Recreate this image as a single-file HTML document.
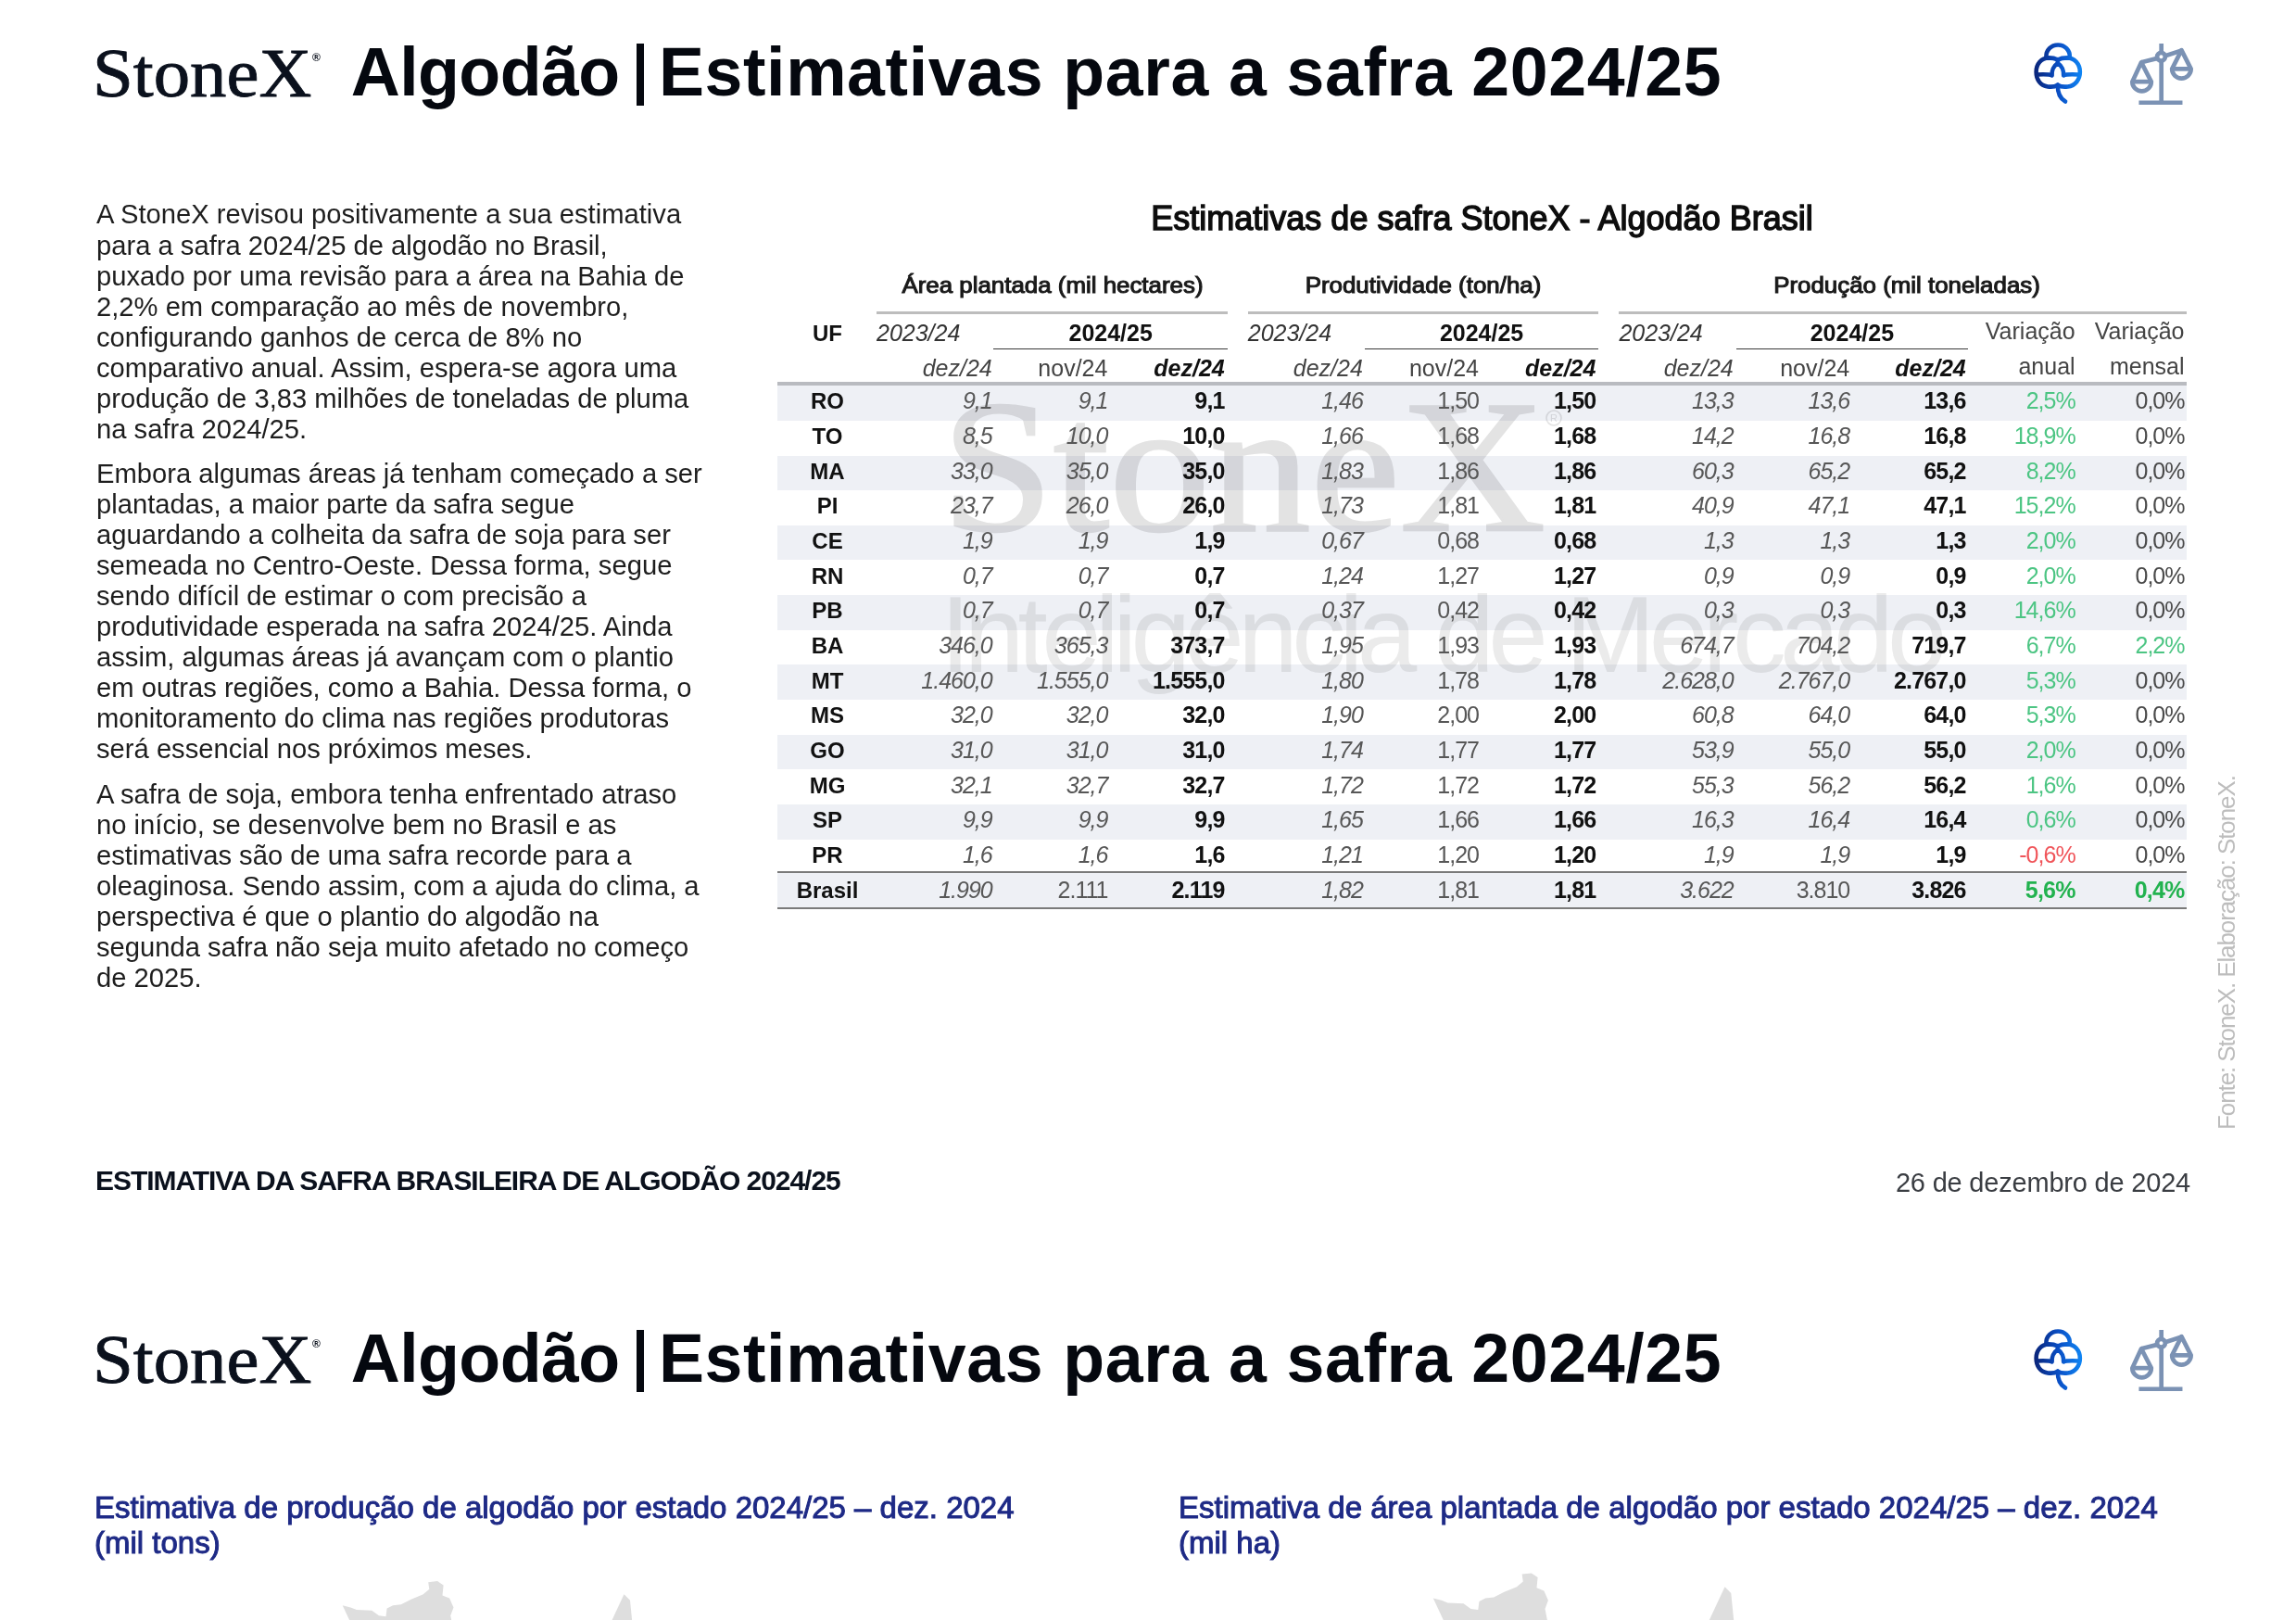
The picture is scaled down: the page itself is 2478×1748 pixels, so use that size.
<!DOCTYPE html><html><head><meta charset="utf-8"><title>StoneX Algod&#227;o</title><style>*{margin:0;padding:0;box-sizing:border-box}
html,body{width:2478px;height:1748px;overflow:hidden;background:#fff}
body{position:relative}
.t{position:absolute;white-space:nowrap;line-height:1}
.r{position:absolute}
.ic{position:absolute;overflow:visible}
</style></head><body>
<div class="r" style="left:839px;top:416.20px;width:1521px;height:37.66px;background:#eef0f5"></div>
<div class="r" style="left:839px;top:491.52px;width:1521px;height:37.66px;background:#eef0f5"></div>
<div class="r" style="left:839px;top:566.84px;width:1521px;height:37.66px;background:#eef0f5"></div>
<div class="r" style="left:839px;top:642.16px;width:1521px;height:37.66px;background:#eef0f5"></div>
<div class="r" style="left:839px;top:717.48px;width:1521px;height:37.66px;background:#eef0f5"></div>
<div class="r" style="left:839px;top:792.80px;width:1521px;height:37.66px;background:#eef0f5"></div>
<div class="r" style="left:839px;top:868.12px;width:1521px;height:37.66px;background:#eef0f5"></div>
<div class="r" style="left:839px;top:942.30px;width:1521px;height:36.50px;background:#eef0f5"></div>
<div class="t" style="top:40.50px;font-family:'Liberation Serif', serif;font-size:75px;font-weight:400;font-style:normal;color:#0b111d;letter-spacing:0px;-webkit-text-stroke:0.9px #0b111d;left:100.00px;transform-origin:0 0;transform:scaleX(1.0500);">StoneX</div>
<div class="t" style="top:55.84px;font-family:'Liberation Sans', sans-serif;font-size:12px;font-weight:700;font-style:normal;color:#0b111d;letter-spacing:0px;left:337.00px;transform-origin:0 0;">&#174;</div>
<div class="t" style="top:40.57px;font-family:'Liberation Sans', sans-serif;font-size:73.5px;font-weight:700;font-style:normal;color:#05080f;letter-spacing:-0.57px;left:378.70px;transform-origin:0 0;">Algod&#227;o</div>
<div class="r" style="left:686.50px;top:47.10px;width:8.70px;height:66.90px;background:#05080f;"></div>
<div class="t" style="top:40.57px;font-family:'Liberation Sans', sans-serif;font-size:73.5px;font-weight:700;font-style:normal;color:#05080f;letter-spacing:0.61px;left:710.90px;transform-origin:0 0;">Estimativas para a safra 2024/25</div>
<svg class="ic" style="left:2185px;top:40px" width="70" height="78" viewBox="0 0 1454 1620">
<defs><linearGradient id="cg40" x1="220" y1="0" x2="1290" y2="0" gradientUnits="userSpaceOnUse"><stop offset="0" stop-color="#0a2478"/><stop offset="0.5" stop-color="#0a4ec4"/><stop offset="1" stop-color="#0f86f5"/></linearGradient></defs>
<g fill="none" stroke="url(#cg40)" stroke-width="95" stroke-linecap="round" stroke-linejoin="round">
<path d="M485,450 C480,290 600,178 750,178 C900,178 1020,290 1015,450"/>
<path d="M745,1075 C690,1110 600,1120 520,1110 C350,1090 262,950 262,780 C262,600 380,470 540,465 C620,465 690,480 745,510"/>
<path d="M745,1075 C800,1110 890,1120 970,1110 C1140,1090 1243,950 1243,780 C1243,600 1120,470 960,465 C880,465 800,480 745,510"/>
<path d="M745,500 L745,580"/>
<path d="M290,840 C420,835 560,830 615,860 C610,760 650,640 745,585 C840,640 880,760 875,860 C930,830 1070,835 1200,840"/>
<path d="M745,1080 C740,1250 790,1370 915,1445"/>
</g></svg>
<svg class="ic" style="left:2160px;top:20px" width="240" height="120" viewBox="0 0 2296 1148">
<g fill="none" stroke="#7b92b4" stroke-width="45" stroke-linecap="butt" stroke-linejoin="round">
<path d="M1652,258 L1652,352"/>
<path d="M1652,438 L1652,872"/>
<path d="M1420,868 L1870,868"/>
<path d="M1445,452 L1612,410"/><path d="M1692,385 L1862,330"/>
<circle cx="1650" cy="395" r="42"/>
<path d="M1445,452 L1352,652 A98,98 0 0 0 1548,652 Z"/>
<path d="M1860,327 L1762,520 A98,98 0 0 0 1958,520 Z"/>
<path d="M1370,652 L1530,652"/><path d="M1780,520 L1940,520"/>
</g></svg>
<div class="t" style="top:1428.50px;font-family:'Liberation Serif', serif;font-size:75px;font-weight:400;font-style:normal;color:#0b111d;letter-spacing:0px;-webkit-text-stroke:0.9px #0b111d;left:100.00px;transform-origin:0 0;transform:scaleX(1.0500);">StoneX</div>
<div class="t" style="top:1443.84px;font-family:'Liberation Sans', sans-serif;font-size:12px;font-weight:700;font-style:normal;color:#0b111d;letter-spacing:0px;left:337.00px;transform-origin:0 0;">&#174;</div>
<div class="t" style="top:1428.57px;font-family:'Liberation Sans', sans-serif;font-size:73.5px;font-weight:700;font-style:normal;color:#05080f;letter-spacing:-0.57px;left:378.70px;transform-origin:0 0;">Algod&#227;o</div>
<div class="r" style="left:686.50px;top:1435.10px;width:8.70px;height:66.90px;background:#05080f;"></div>
<div class="t" style="top:1428.57px;font-family:'Liberation Sans', sans-serif;font-size:73.5px;font-weight:700;font-style:normal;color:#05080f;letter-spacing:0.61px;left:710.90px;transform-origin:0 0;">Estimativas para a safra 2024/25</div>
<svg class="ic" style="left:2185px;top:1428px" width="70" height="78" viewBox="0 0 1454 1620">
<defs><linearGradient id="cg1428" x1="220" y1="0" x2="1290" y2="0" gradientUnits="userSpaceOnUse"><stop offset="0" stop-color="#0a2478"/><stop offset="0.5" stop-color="#0a4ec4"/><stop offset="1" stop-color="#0f86f5"/></linearGradient></defs>
<g fill="none" stroke="url(#cg1428)" stroke-width="95" stroke-linecap="round" stroke-linejoin="round">
<path d="M485,450 C480,290 600,178 750,178 C900,178 1020,290 1015,450"/>
<path d="M745,1075 C690,1110 600,1120 520,1110 C350,1090 262,950 262,780 C262,600 380,470 540,465 C620,465 690,480 745,510"/>
<path d="M745,1075 C800,1110 890,1120 970,1110 C1140,1090 1243,950 1243,780 C1243,600 1120,470 960,465 C880,465 800,480 745,510"/>
<path d="M745,500 L745,580"/>
<path d="M290,840 C420,835 560,830 615,860 C610,760 650,640 745,585 C840,640 880,760 875,860 C930,830 1070,835 1200,840"/>
<path d="M745,1080 C740,1250 790,1370 915,1445"/>
</g></svg>
<svg class="ic" style="left:2160px;top:1408px" width="240" height="120" viewBox="0 0 2296 1148">
<g fill="none" stroke="#7b92b4" stroke-width="45" stroke-linecap="butt" stroke-linejoin="round">
<path d="M1652,258 L1652,352"/>
<path d="M1652,438 L1652,872"/>
<path d="M1420,868 L1870,868"/>
<path d="M1445,452 L1612,410"/><path d="M1692,385 L1862,330"/>
<circle cx="1650" cy="395" r="42"/>
<path d="M1445,452 L1352,652 A98,98 0 0 0 1548,652 Z"/>
<path d="M1860,327 L1762,520 A98,98 0 0 0 1958,520 Z"/>
<path d="M1370,652 L1530,652"/><path d="M1780,520 L1940,520"/>
</g></svg>
<div class="t" style="top:217.48px;font-family:'Liberation Sans', sans-serif;font-size:29.2px;font-weight:400;font-style:normal;color:#1e1e1e;letter-spacing:0px;left:104.00px;transform-origin:0 0;">A StoneX revisou positivamente a sua estimativa</div>
<div class="t" style="top:250.53px;font-family:'Liberation Sans', sans-serif;font-size:29.2px;font-weight:400;font-style:normal;color:#1e1e1e;letter-spacing:0px;left:104.00px;transform-origin:0 0;">para a safra 2024/25 de algod&#227;o no Brasil,</div>
<div class="t" style="top:283.58px;font-family:'Liberation Sans', sans-serif;font-size:29.2px;font-weight:400;font-style:normal;color:#1e1e1e;letter-spacing:0px;left:104.00px;transform-origin:0 0;">puxado por uma revis&#227;o para a &#225;rea na Bahia de</div>
<div class="t" style="top:316.63px;font-family:'Liberation Sans', sans-serif;font-size:29.2px;font-weight:400;font-style:normal;color:#1e1e1e;letter-spacing:0px;left:104.00px;transform-origin:0 0;">2,2% em compara&#231;&#227;o ao m&#234;s de novembro,</div>
<div class="t" style="top:349.68px;font-family:'Liberation Sans', sans-serif;font-size:29.2px;font-weight:400;font-style:normal;color:#1e1e1e;letter-spacing:0px;left:104.00px;transform-origin:0 0;">configurando ganhos de cerca de 8% no</div>
<div class="t" style="top:382.73px;font-family:'Liberation Sans', sans-serif;font-size:29.2px;font-weight:400;font-style:normal;color:#1e1e1e;letter-spacing:0px;left:104.00px;transform-origin:0 0;">comparativo anual. Assim, espera-se agora uma</div>
<div class="t" style="top:415.78px;font-family:'Liberation Sans', sans-serif;font-size:29.2px;font-weight:400;font-style:normal;color:#1e1e1e;letter-spacing:0px;left:104.00px;transform-origin:0 0;">produ&#231;&#227;o de 3,83 milh&#245;es de toneladas de pluma</div>
<div class="t" style="top:448.83px;font-family:'Liberation Sans', sans-serif;font-size:29.2px;font-weight:400;font-style:normal;color:#1e1e1e;letter-spacing:0px;left:104.00px;transform-origin:0 0;">na safra 2024/25.</div>
<div class="t" style="top:496.78px;font-family:'Liberation Sans', sans-serif;font-size:29.2px;font-weight:400;font-style:normal;color:#1e1e1e;letter-spacing:0px;left:104.00px;transform-origin:0 0;">Embora algumas &#225;reas j&#225; tenham come&#231;ado a ser</div>
<div class="t" style="top:529.83px;font-family:'Liberation Sans', sans-serif;font-size:29.2px;font-weight:400;font-style:normal;color:#1e1e1e;letter-spacing:0px;left:104.00px;transform-origin:0 0;">plantadas, a maior parte da safra segue</div>
<div class="t" style="top:562.88px;font-family:'Liberation Sans', sans-serif;font-size:29.2px;font-weight:400;font-style:normal;color:#1e1e1e;letter-spacing:0px;left:104.00px;transform-origin:0 0;">aguardando a colheita da safra de soja para ser</div>
<div class="t" style="top:595.93px;font-family:'Liberation Sans', sans-serif;font-size:29.2px;font-weight:400;font-style:normal;color:#1e1e1e;letter-spacing:0px;left:104.00px;transform-origin:0 0;">semeada no Centro-Oeste. Dessa forma, segue</div>
<div class="t" style="top:628.98px;font-family:'Liberation Sans', sans-serif;font-size:29.2px;font-weight:400;font-style:normal;color:#1e1e1e;letter-spacing:0px;left:104.00px;transform-origin:0 0;">sendo dif&#237;cil de estimar o com precis&#227;o a</div>
<div class="t" style="top:662.03px;font-family:'Liberation Sans', sans-serif;font-size:29.2px;font-weight:400;font-style:normal;color:#1e1e1e;letter-spacing:0px;left:104.00px;transform-origin:0 0;">produtividade esperada na safra 2024/25. Ainda</div>
<div class="t" style="top:695.08px;font-family:'Liberation Sans', sans-serif;font-size:29.2px;font-weight:400;font-style:normal;color:#1e1e1e;letter-spacing:0px;left:104.00px;transform-origin:0 0;">assim, algumas &#225;reas j&#225; avan&#231;am com o plantio</div>
<div class="t" style="top:728.13px;font-family:'Liberation Sans', sans-serif;font-size:29.2px;font-weight:400;font-style:normal;color:#1e1e1e;letter-spacing:0px;left:104.00px;transform-origin:0 0;">em outras regi&#245;es, como a Bahia. Dessa forma, o</div>
<div class="t" style="top:761.18px;font-family:'Liberation Sans', sans-serif;font-size:29.2px;font-weight:400;font-style:normal;color:#1e1e1e;letter-spacing:0px;left:104.00px;transform-origin:0 0;">monitoramento do clima nas regi&#245;es produtoras</div>
<div class="t" style="top:794.23px;font-family:'Liberation Sans', sans-serif;font-size:29.2px;font-weight:400;font-style:normal;color:#1e1e1e;letter-spacing:0px;left:104.00px;transform-origin:0 0;">ser&#225; essencial nos pr&#243;ximos meses.</div>
<div class="t" style="top:842.78px;font-family:'Liberation Sans', sans-serif;font-size:29.2px;font-weight:400;font-style:normal;color:#1e1e1e;letter-spacing:0px;left:104.00px;transform-origin:0 0;">A safra de soja, embora tenha enfrentado atraso</div>
<div class="t" style="top:875.83px;font-family:'Liberation Sans', sans-serif;font-size:29.2px;font-weight:400;font-style:normal;color:#1e1e1e;letter-spacing:0px;left:104.00px;transform-origin:0 0;">no in&#237;cio, se desenvolve bem no Brasil e as</div>
<div class="t" style="top:908.88px;font-family:'Liberation Sans', sans-serif;font-size:29.2px;font-weight:400;font-style:normal;color:#1e1e1e;letter-spacing:0px;left:104.00px;transform-origin:0 0;">estimativas s&#227;o de uma safra recorde para a</div>
<div class="t" style="top:941.93px;font-family:'Liberation Sans', sans-serif;font-size:29.2px;font-weight:400;font-style:normal;color:#1e1e1e;letter-spacing:0px;left:104.00px;transform-origin:0 0;">oleaginosa. Sendo assim, com a ajuda do clima, a</div>
<div class="t" style="top:974.98px;font-family:'Liberation Sans', sans-serif;font-size:29.2px;font-weight:400;font-style:normal;color:#1e1e1e;letter-spacing:0px;left:104.00px;transform-origin:0 0;">perspectiva &#233; que o plantio do algod&#227;o na</div>
<div class="t" style="top:1008.03px;font-family:'Liberation Sans', sans-serif;font-size:29.2px;font-weight:400;font-style:normal;color:#1e1e1e;letter-spacing:0px;left:104.00px;transform-origin:0 0;">segunda safra n&#227;o seja muito afetado no come&#231;o</div>
<div class="t" style="top:1041.08px;font-family:'Liberation Sans', sans-serif;font-size:29.2px;font-weight:400;font-style:normal;color:#1e1e1e;letter-spacing:0px;left:104.00px;transform-origin:0 0;">de 2025.</div>
<div class="t" style="top:400.68px;font-family:'Liberation Serif', serif;font-size:204px;font-weight:400;font-style:normal;color:#e3e3e3;letter-spacing:0px;-webkit-text-stroke:2.5px #e3e3e3;mix-blend-mode:multiply;left:1016.00px;transform-origin:0 0;transform:scaleX(1.0650);">StoneX</div>
<div class="t" style="top:626.78px;font-family:'Liberation Sans', sans-serif;font-size:116px;font-weight:400;font-style:normal;color:#ebebeb;letter-spacing:-6.6px;mix-blend-mode:multiply;left:1015.00px;transform-origin:0 0;">Intelig&#234;ncia de Mercado</div>
<svg class="ic" style="left:1666px;top:440px;mix-blend-mode:multiply" width="22" height="22" viewBox="0 0 22 22"><circle cx="11" cy="11" r="8" fill="none" stroke="#e3e3e3" stroke-width="1.6"/><text x="11" y="15" font-family="Liberation Sans" font-size="11" fill="#e3e3e3" text-anchor="middle">R</text></svg>
<div class="t" style="top:217.72px;font-family:'Liberation Sans', sans-serif;font-size:36px;font-weight:400;font-style:normal;color:#0d0d0d;letter-spacing:0px;-webkit-text-stroke:1.4px #0d0d0d;left:599.50px;width:2000px;text-align:center;transform-origin:50% 0;">Estimativas de safra StoneX - Algod&#227;o Brasil</div>
<div class="t" style="top:296.53px;font-family:'Liberation Sans', sans-serif;font-size:23px;font-weight:400;font-style:normal;color:#1a1a1a;letter-spacing:0px;-webkit-text-stroke:1px #1a1a1a;left:135.50px;width:2000px;text-align:center;transform-origin:50% 0;transform:scaleX(1.1250);">&#193;rea plantada (mil hectares)</div>
<div class="r" style="left:946.00px;top:336.00px;width:379.00px;height:2.50px;background:#bdbdbd;"></div>
<div class="t" style="top:347.03px;font-family:'Liberation Sans', sans-serif;font-size:25px;font-weight:400;font-style:italic;color:#333;letter-spacing:0px;left:946.00px;transform-origin:0 0;">2023/24</div>
<div class="r" style="left:1072.40px;top:375.50px;width:252.60px;height:1.60px;background:#3a3a3a;"></div>
<div class="t" style="top:347.03px;font-family:'Liberation Sans', sans-serif;font-size:25px;font-weight:700;font-style:normal;color:#111;letter-spacing:0px;left:198.70px;width:2000px;text-align:center;transform-origin:50% 0;">2024/25</div>
<div class="t" style="top:296.53px;font-family:'Liberation Sans', sans-serif;font-size:23px;font-weight:400;font-style:normal;color:#1a1a1a;letter-spacing:0px;-webkit-text-stroke:1px #1a1a1a;left:535.90px;width:2000px;text-align:center;transform-origin:50% 0;transform:scaleX(1.1250);">Produtividade (ton/ha)</div>
<div class="r" style="left:1346.80px;top:336.00px;width:378.20px;height:2.50px;background:#bdbdbd;"></div>
<div class="t" style="top:347.03px;font-family:'Liberation Sans', sans-serif;font-size:25px;font-weight:400;font-style:italic;color:#333;letter-spacing:0px;left:1346.80px;transform-origin:0 0;">2023/24</div>
<div class="r" style="left:1473.20px;top:375.50px;width:251.80px;height:1.60px;background:#3a3a3a;"></div>
<div class="t" style="top:347.03px;font-family:'Liberation Sans', sans-serif;font-size:25px;font-weight:700;font-style:normal;color:#111;letter-spacing:0px;left:599.10px;width:2000px;text-align:center;transform-origin:50% 0;">2024/25</div>
<div class="t" style="top:296.53px;font-family:'Liberation Sans', sans-serif;font-size:23px;font-weight:400;font-style:normal;color:#1a1a1a;letter-spacing:0px;-webkit-text-stroke:1px #1a1a1a;left:1058.00px;width:2000px;text-align:center;transform-origin:50% 0;transform:scaleX(1.1250);">Produ&#231;&#227;o (mil toneladas)</div>
<div class="r" style="left:1747.40px;top:336.00px;width:612.30px;height:2.50px;background:#bdbdbd;"></div>
<div class="t" style="top:347.03px;font-family:'Liberation Sans', sans-serif;font-size:25px;font-weight:400;font-style:italic;color:#333;letter-spacing:0px;left:1747.40px;transform-origin:0 0;">2023/24</div>
<div class="r" style="left:1873.80px;top:375.50px;width:250.20px;height:1.60px;background:#3a3a3a;"></div>
<div class="t" style="top:347.03px;font-family:'Liberation Sans', sans-serif;font-size:25px;font-weight:700;font-style:normal;color:#111;letter-spacing:0px;left:998.90px;width:2000px;text-align:center;transform-origin:50% 0;">2024/25</div>
<div class="t" style="top:347.88px;font-family:'Liberation Sans', sans-serif;font-size:24px;font-weight:700;font-style:normal;color:#111;letter-spacing:0px;left:-107.00px;width:2000px;text-align:center;transform-origin:50% 0;">UF</div>
<div class="t" style="top:344.73px;font-family:'Liberation Sans', sans-serif;font-size:25px;font-weight:400;font-style:normal;color:#444;letter-spacing:0px;right:238.40px;transform-origin:100% 0;text-align:right;">Varia&#231;&#227;o</div>
<div class="t" style="top:344.73px;font-family:'Liberation Sans', sans-serif;font-size:25px;font-weight:400;font-style:normal;color:#444;letter-spacing:0px;right:120.50px;transform-origin:100% 0;text-align:right;">Varia&#231;&#227;o</div>
<div class="t" style="top:382.53px;font-family:'Liberation Sans', sans-serif;font-size:25px;font-weight:400;font-style:normal;color:#444;letter-spacing:0px;right:238.40px;transform-origin:100% 0;text-align:right;">anual</div>
<div class="t" style="top:382.53px;font-family:'Liberation Sans', sans-serif;font-size:25px;font-weight:400;font-style:normal;color:#444;letter-spacing:0px;right:120.50px;transform-origin:100% 0;text-align:right;">mensal</div>
<div class="t" style="top:385.13px;font-family:'Liberation Sans', sans-serif;font-size:25px;font-weight:400;font-style:italic;color:#444;letter-spacing:0px;right:1407.30px;transform-origin:100% 0;text-align:right;">dez/24</div>
<div class="t" style="top:385.13px;font-family:'Liberation Sans', sans-serif;font-size:25px;font-weight:400;font-style:normal;color:#444;letter-spacing:0px;right:1282.60px;transform-origin:100% 0;text-align:right;">nov/24</div>
<div class="t" style="top:385.13px;font-family:'Liberation Sans', sans-serif;font-size:25px;font-weight:700;font-style:italic;color:#111;letter-spacing:0px;right:1156.30px;transform-origin:100% 0;text-align:right;">dez/24</div>
<div class="t" style="top:385.13px;font-family:'Liberation Sans', sans-serif;font-size:25px;font-weight:400;font-style:italic;color:#444;letter-spacing:0px;right:1007.20px;transform-origin:100% 0;text-align:right;">dez/24</div>
<div class="t" style="top:385.13px;font-family:'Liberation Sans', sans-serif;font-size:25px;font-weight:400;font-style:normal;color:#444;letter-spacing:0px;right:882.00px;transform-origin:100% 0;text-align:right;">nov/24</div>
<div class="t" style="top:385.13px;font-family:'Liberation Sans', sans-serif;font-size:25px;font-weight:700;font-style:italic;color:#111;letter-spacing:0px;right:755.60px;transform-origin:100% 0;text-align:right;">dez/24</div>
<div class="t" style="top:385.13px;font-family:'Liberation Sans', sans-serif;font-size:25px;font-weight:400;font-style:italic;color:#444;letter-spacing:0px;right:607.30px;transform-origin:100% 0;text-align:right;">dez/24</div>
<div class="t" style="top:385.13px;font-family:'Liberation Sans', sans-serif;font-size:25px;font-weight:400;font-style:normal;color:#444;letter-spacing:0px;right:481.80px;transform-origin:100% 0;text-align:right;">nov/24</div>
<div class="t" style="top:385.13px;font-family:'Liberation Sans', sans-serif;font-size:25px;font-weight:700;font-style:italic;color:#111;letter-spacing:0px;right:356.30px;transform-origin:100% 0;text-align:right;">dez/24</div>
<div class="r" style="left:839.00px;top:412.00px;width:1521.00px;height:4.20px;background:#b9bbc0;"></div>
<div class="t" style="top:421.28px;font-family:'Liberation Sans', sans-serif;font-size:24px;font-weight:700;font-style:normal;color:#111;letter-spacing:0px;left:-107.00px;width:2000px;text-align:center;transform-origin:50% 0;">RO</div>
<div class="t" style="top:420.43px;font-family:'Liberation Sans', sans-serif;font-size:25px;font-weight:400;font-style:italic;color:#575757;letter-spacing:-1.0px;right:1407.30px;transform-origin:100% 0;text-align:right;">9,1</div>
<div class="t" style="top:420.43px;font-family:'Liberation Sans', sans-serif;font-size:25px;font-weight:400;font-style:italic;color:#575757;letter-spacing:-1.0px;right:1282.60px;transform-origin:100% 0;text-align:right;">9,1</div>
<div class="t" style="top:420.43px;font-family:'Liberation Sans', sans-serif;font-size:25px;font-weight:700;font-style:normal;color:#111;letter-spacing:-0.8px;right:1156.30px;transform-origin:100% 0;text-align:right;">9,1</div>
<div class="t" style="top:420.43px;font-family:'Liberation Sans', sans-serif;font-size:25px;font-weight:400;font-style:italic;color:#575757;letter-spacing:-1.0px;right:1007.20px;transform-origin:100% 0;text-align:right;">1,46</div>
<div class="t" style="top:420.43px;font-family:'Liberation Sans', sans-serif;font-size:25px;font-weight:400;font-style:normal;color:#575757;letter-spacing:-1.0px;right:882.00px;transform-origin:100% 0;text-align:right;">1,50</div>
<div class="t" style="top:420.43px;font-family:'Liberation Sans', sans-serif;font-size:25px;font-weight:700;font-style:normal;color:#111;letter-spacing:-0.8px;right:755.60px;transform-origin:100% 0;text-align:right;">1,50</div>
<div class="t" style="top:420.43px;font-family:'Liberation Sans', sans-serif;font-size:25px;font-weight:400;font-style:italic;color:#575757;letter-spacing:-1.0px;right:607.30px;transform-origin:100% 0;text-align:right;">13,3</div>
<div class="t" style="top:420.43px;font-family:'Liberation Sans', sans-serif;font-size:25px;font-weight:400;font-style:italic;color:#575757;letter-spacing:-1.0px;right:481.80px;transform-origin:100% 0;text-align:right;">13,6</div>
<div class="t" style="top:420.43px;font-family:'Liberation Sans', sans-serif;font-size:25px;font-weight:700;font-style:normal;color:#111;letter-spacing:-0.8px;right:356.30px;transform-origin:100% 0;text-align:right;">13,6</div>
<div class="t" style="top:420.43px;font-family:'Liberation Sans', sans-serif;font-size:25px;font-weight:400;font-style:normal;color:#4cc583;letter-spacing:-1.0px;right:238.40px;transform-origin:100% 0;text-align:right;">2,5%</div>
<div class="t" style="top:420.43px;font-family:'Liberation Sans', sans-serif;font-size:25px;font-weight:400;font-style:normal;color:#4a4a4a;letter-spacing:-1.0px;right:120.50px;transform-origin:100% 0;text-align:right;">0,0%</div>
<div class="t" style="top:458.94px;font-family:'Liberation Sans', sans-serif;font-size:24px;font-weight:700;font-style:normal;color:#111;letter-spacing:0px;left:-107.00px;width:2000px;text-align:center;transform-origin:50% 0;">TO</div>
<div class="t" style="top:458.09px;font-family:'Liberation Sans', sans-serif;font-size:25px;font-weight:400;font-style:italic;color:#575757;letter-spacing:-1.0px;right:1407.30px;transform-origin:100% 0;text-align:right;">8,5</div>
<div class="t" style="top:458.09px;font-family:'Liberation Sans', sans-serif;font-size:25px;font-weight:400;font-style:italic;color:#575757;letter-spacing:-1.0px;right:1282.60px;transform-origin:100% 0;text-align:right;">10,0</div>
<div class="t" style="top:458.09px;font-family:'Liberation Sans', sans-serif;font-size:25px;font-weight:700;font-style:normal;color:#111;letter-spacing:-0.8px;right:1156.30px;transform-origin:100% 0;text-align:right;">10,0</div>
<div class="t" style="top:458.09px;font-family:'Liberation Sans', sans-serif;font-size:25px;font-weight:400;font-style:italic;color:#575757;letter-spacing:-1.0px;right:1007.20px;transform-origin:100% 0;text-align:right;">1,66</div>
<div class="t" style="top:458.09px;font-family:'Liberation Sans', sans-serif;font-size:25px;font-weight:400;font-style:normal;color:#575757;letter-spacing:-1.0px;right:882.00px;transform-origin:100% 0;text-align:right;">1,68</div>
<div class="t" style="top:458.09px;font-family:'Liberation Sans', sans-serif;font-size:25px;font-weight:700;font-style:normal;color:#111;letter-spacing:-0.8px;right:755.60px;transform-origin:100% 0;text-align:right;">1,68</div>
<div class="t" style="top:458.09px;font-family:'Liberation Sans', sans-serif;font-size:25px;font-weight:400;font-style:italic;color:#575757;letter-spacing:-1.0px;right:607.30px;transform-origin:100% 0;text-align:right;">14,2</div>
<div class="t" style="top:458.09px;font-family:'Liberation Sans', sans-serif;font-size:25px;font-weight:400;font-style:italic;color:#575757;letter-spacing:-1.0px;right:481.80px;transform-origin:100% 0;text-align:right;">16,8</div>
<div class="t" style="top:458.09px;font-family:'Liberation Sans', sans-serif;font-size:25px;font-weight:700;font-style:normal;color:#111;letter-spacing:-0.8px;right:356.30px;transform-origin:100% 0;text-align:right;">16,8</div>
<div class="t" style="top:458.09px;font-family:'Liberation Sans', sans-serif;font-size:25px;font-weight:400;font-style:normal;color:#4cc583;letter-spacing:-1.0px;right:238.40px;transform-origin:100% 0;text-align:right;">18,9%</div>
<div class="t" style="top:458.09px;font-family:'Liberation Sans', sans-serif;font-size:25px;font-weight:400;font-style:normal;color:#4a4a4a;letter-spacing:-1.0px;right:120.50px;transform-origin:100% 0;text-align:right;">0,0%</div>
<div class="t" style="top:496.60px;font-family:'Liberation Sans', sans-serif;font-size:24px;font-weight:700;font-style:normal;color:#111;letter-spacing:0px;left:-107.00px;width:2000px;text-align:center;transform-origin:50% 0;">MA</div>
<div class="t" style="top:495.75px;font-family:'Liberation Sans', sans-serif;font-size:25px;font-weight:400;font-style:italic;color:#575757;letter-spacing:-1.0px;right:1407.30px;transform-origin:100% 0;text-align:right;">33,0</div>
<div class="t" style="top:495.75px;font-family:'Liberation Sans', sans-serif;font-size:25px;font-weight:400;font-style:italic;color:#575757;letter-spacing:-1.0px;right:1282.60px;transform-origin:100% 0;text-align:right;">35,0</div>
<div class="t" style="top:495.75px;font-family:'Liberation Sans', sans-serif;font-size:25px;font-weight:700;font-style:normal;color:#111;letter-spacing:-0.8px;right:1156.30px;transform-origin:100% 0;text-align:right;">35,0</div>
<div class="t" style="top:495.75px;font-family:'Liberation Sans', sans-serif;font-size:25px;font-weight:400;font-style:italic;color:#575757;letter-spacing:-1.0px;right:1007.20px;transform-origin:100% 0;text-align:right;">1,83</div>
<div class="t" style="top:495.75px;font-family:'Liberation Sans', sans-serif;font-size:25px;font-weight:400;font-style:normal;color:#575757;letter-spacing:-1.0px;right:882.00px;transform-origin:100% 0;text-align:right;">1,86</div>
<div class="t" style="top:495.75px;font-family:'Liberation Sans', sans-serif;font-size:25px;font-weight:700;font-style:normal;color:#111;letter-spacing:-0.8px;right:755.60px;transform-origin:100% 0;text-align:right;">1,86</div>
<div class="t" style="top:495.75px;font-family:'Liberation Sans', sans-serif;font-size:25px;font-weight:400;font-style:italic;color:#575757;letter-spacing:-1.0px;right:607.30px;transform-origin:100% 0;text-align:right;">60,3</div>
<div class="t" style="top:495.75px;font-family:'Liberation Sans', sans-serif;font-size:25px;font-weight:400;font-style:italic;color:#575757;letter-spacing:-1.0px;right:481.80px;transform-origin:100% 0;text-align:right;">65,2</div>
<div class="t" style="top:495.75px;font-family:'Liberation Sans', sans-serif;font-size:25px;font-weight:700;font-style:normal;color:#111;letter-spacing:-0.8px;right:356.30px;transform-origin:100% 0;text-align:right;">65,2</div>
<div class="t" style="top:495.75px;font-family:'Liberation Sans', sans-serif;font-size:25px;font-weight:400;font-style:normal;color:#4cc583;letter-spacing:-1.0px;right:238.40px;transform-origin:100% 0;text-align:right;">8,2%</div>
<div class="t" style="top:495.75px;font-family:'Liberation Sans', sans-serif;font-size:25px;font-weight:400;font-style:normal;color:#4a4a4a;letter-spacing:-1.0px;right:120.50px;transform-origin:100% 0;text-align:right;">0,0%</div>
<div class="t" style="top:534.26px;font-family:'Liberation Sans', sans-serif;font-size:24px;font-weight:700;font-style:normal;color:#111;letter-spacing:0px;left:-107.00px;width:2000px;text-align:center;transform-origin:50% 0;">PI</div>
<div class="t" style="top:533.41px;font-family:'Liberation Sans', sans-serif;font-size:25px;font-weight:400;font-style:italic;color:#575757;letter-spacing:-1.0px;right:1407.30px;transform-origin:100% 0;text-align:right;">23,7</div>
<div class="t" style="top:533.41px;font-family:'Liberation Sans', sans-serif;font-size:25px;font-weight:400;font-style:italic;color:#575757;letter-spacing:-1.0px;right:1282.60px;transform-origin:100% 0;text-align:right;">26,0</div>
<div class="t" style="top:533.41px;font-family:'Liberation Sans', sans-serif;font-size:25px;font-weight:700;font-style:normal;color:#111;letter-spacing:-0.8px;right:1156.30px;transform-origin:100% 0;text-align:right;">26,0</div>
<div class="t" style="top:533.41px;font-family:'Liberation Sans', sans-serif;font-size:25px;font-weight:400;font-style:italic;color:#575757;letter-spacing:-1.0px;right:1007.20px;transform-origin:100% 0;text-align:right;">1,73</div>
<div class="t" style="top:533.41px;font-family:'Liberation Sans', sans-serif;font-size:25px;font-weight:400;font-style:normal;color:#575757;letter-spacing:-1.0px;right:882.00px;transform-origin:100% 0;text-align:right;">1,81</div>
<div class="t" style="top:533.41px;font-family:'Liberation Sans', sans-serif;font-size:25px;font-weight:700;font-style:normal;color:#111;letter-spacing:-0.8px;right:755.60px;transform-origin:100% 0;text-align:right;">1,81</div>
<div class="t" style="top:533.41px;font-family:'Liberation Sans', sans-serif;font-size:25px;font-weight:400;font-style:italic;color:#575757;letter-spacing:-1.0px;right:607.30px;transform-origin:100% 0;text-align:right;">40,9</div>
<div class="t" style="top:533.41px;font-family:'Liberation Sans', sans-serif;font-size:25px;font-weight:400;font-style:italic;color:#575757;letter-spacing:-1.0px;right:481.80px;transform-origin:100% 0;text-align:right;">47,1</div>
<div class="t" style="top:533.41px;font-family:'Liberation Sans', sans-serif;font-size:25px;font-weight:700;font-style:normal;color:#111;letter-spacing:-0.8px;right:356.30px;transform-origin:100% 0;text-align:right;">47,1</div>
<div class="t" style="top:533.41px;font-family:'Liberation Sans', sans-serif;font-size:25px;font-weight:400;font-style:normal;color:#4cc583;letter-spacing:-1.0px;right:238.40px;transform-origin:100% 0;text-align:right;">15,2%</div>
<div class="t" style="top:533.41px;font-family:'Liberation Sans', sans-serif;font-size:25px;font-weight:400;font-style:normal;color:#4a4a4a;letter-spacing:-1.0px;right:120.50px;transform-origin:100% 0;text-align:right;">0,0%</div>
<div class="t" style="top:571.92px;font-family:'Liberation Sans', sans-serif;font-size:24px;font-weight:700;font-style:normal;color:#111;letter-spacing:0px;left:-107.00px;width:2000px;text-align:center;transform-origin:50% 0;">CE</div>
<div class="t" style="top:571.07px;font-family:'Liberation Sans', sans-serif;font-size:25px;font-weight:400;font-style:italic;color:#575757;letter-spacing:-1.0px;right:1407.30px;transform-origin:100% 0;text-align:right;">1,9</div>
<div class="t" style="top:571.07px;font-family:'Liberation Sans', sans-serif;font-size:25px;font-weight:400;font-style:italic;color:#575757;letter-spacing:-1.0px;right:1282.60px;transform-origin:100% 0;text-align:right;">1,9</div>
<div class="t" style="top:571.07px;font-family:'Liberation Sans', sans-serif;font-size:25px;font-weight:700;font-style:normal;color:#111;letter-spacing:-0.8px;right:1156.30px;transform-origin:100% 0;text-align:right;">1,9</div>
<div class="t" style="top:571.07px;font-family:'Liberation Sans', sans-serif;font-size:25px;font-weight:400;font-style:italic;color:#575757;letter-spacing:-1.0px;right:1007.20px;transform-origin:100% 0;text-align:right;">0,67</div>
<div class="t" style="top:571.07px;font-family:'Liberation Sans', sans-serif;font-size:25px;font-weight:400;font-style:normal;color:#575757;letter-spacing:-1.0px;right:882.00px;transform-origin:100% 0;text-align:right;">0,68</div>
<div class="t" style="top:571.07px;font-family:'Liberation Sans', sans-serif;font-size:25px;font-weight:700;font-style:normal;color:#111;letter-spacing:-0.8px;right:755.60px;transform-origin:100% 0;text-align:right;">0,68</div>
<div class="t" style="top:571.07px;font-family:'Liberation Sans', sans-serif;font-size:25px;font-weight:400;font-style:italic;color:#575757;letter-spacing:-1.0px;right:607.30px;transform-origin:100% 0;text-align:right;">1,3</div>
<div class="t" style="top:571.07px;font-family:'Liberation Sans', sans-serif;font-size:25px;font-weight:400;font-style:italic;color:#575757;letter-spacing:-1.0px;right:481.80px;transform-origin:100% 0;text-align:right;">1,3</div>
<div class="t" style="top:571.07px;font-family:'Liberation Sans', sans-serif;font-size:25px;font-weight:700;font-style:normal;color:#111;letter-spacing:-0.8px;right:356.30px;transform-origin:100% 0;text-align:right;">1,3</div>
<div class="t" style="top:571.07px;font-family:'Liberation Sans', sans-serif;font-size:25px;font-weight:400;font-style:normal;color:#4cc583;letter-spacing:-1.0px;right:238.40px;transform-origin:100% 0;text-align:right;">2,0%</div>
<div class="t" style="top:571.07px;font-family:'Liberation Sans', sans-serif;font-size:25px;font-weight:400;font-style:normal;color:#4a4a4a;letter-spacing:-1.0px;right:120.50px;transform-origin:100% 0;text-align:right;">0,0%</div>
<div class="t" style="top:609.58px;font-family:'Liberation Sans', sans-serif;font-size:24px;font-weight:700;font-style:normal;color:#111;letter-spacing:0px;left:-107.00px;width:2000px;text-align:center;transform-origin:50% 0;">RN</div>
<div class="t" style="top:608.73px;font-family:'Liberation Sans', sans-serif;font-size:25px;font-weight:400;font-style:italic;color:#575757;letter-spacing:-1.0px;right:1407.30px;transform-origin:100% 0;text-align:right;">0,7</div>
<div class="t" style="top:608.73px;font-family:'Liberation Sans', sans-serif;font-size:25px;font-weight:400;font-style:italic;color:#575757;letter-spacing:-1.0px;right:1282.60px;transform-origin:100% 0;text-align:right;">0,7</div>
<div class="t" style="top:608.73px;font-family:'Liberation Sans', sans-serif;font-size:25px;font-weight:700;font-style:normal;color:#111;letter-spacing:-0.8px;right:1156.30px;transform-origin:100% 0;text-align:right;">0,7</div>
<div class="t" style="top:608.73px;font-family:'Liberation Sans', sans-serif;font-size:25px;font-weight:400;font-style:italic;color:#575757;letter-spacing:-1.0px;right:1007.20px;transform-origin:100% 0;text-align:right;">1,24</div>
<div class="t" style="top:608.73px;font-family:'Liberation Sans', sans-serif;font-size:25px;font-weight:400;font-style:normal;color:#575757;letter-spacing:-1.0px;right:882.00px;transform-origin:100% 0;text-align:right;">1,27</div>
<div class="t" style="top:608.73px;font-family:'Liberation Sans', sans-serif;font-size:25px;font-weight:700;font-style:normal;color:#111;letter-spacing:-0.8px;right:755.60px;transform-origin:100% 0;text-align:right;">1,27</div>
<div class="t" style="top:608.73px;font-family:'Liberation Sans', sans-serif;font-size:25px;font-weight:400;font-style:italic;color:#575757;letter-spacing:-1.0px;right:607.30px;transform-origin:100% 0;text-align:right;">0,9</div>
<div class="t" style="top:608.73px;font-family:'Liberation Sans', sans-serif;font-size:25px;font-weight:400;font-style:italic;color:#575757;letter-spacing:-1.0px;right:481.80px;transform-origin:100% 0;text-align:right;">0,9</div>
<div class="t" style="top:608.73px;font-family:'Liberation Sans', sans-serif;font-size:25px;font-weight:700;font-style:normal;color:#111;letter-spacing:-0.8px;right:356.30px;transform-origin:100% 0;text-align:right;">0,9</div>
<div class="t" style="top:608.73px;font-family:'Liberation Sans', sans-serif;font-size:25px;font-weight:400;font-style:normal;color:#4cc583;letter-spacing:-1.0px;right:238.40px;transform-origin:100% 0;text-align:right;">2,0%</div>
<div class="t" style="top:608.73px;font-family:'Liberation Sans', sans-serif;font-size:25px;font-weight:400;font-style:normal;color:#4a4a4a;letter-spacing:-1.0px;right:120.50px;transform-origin:100% 0;text-align:right;">0,0%</div>
<div class="t" style="top:647.24px;font-family:'Liberation Sans', sans-serif;font-size:24px;font-weight:700;font-style:normal;color:#111;letter-spacing:0px;left:-107.00px;width:2000px;text-align:center;transform-origin:50% 0;">PB</div>
<div class="t" style="top:646.39px;font-family:'Liberation Sans', sans-serif;font-size:25px;font-weight:400;font-style:italic;color:#575757;letter-spacing:-1.0px;right:1407.30px;transform-origin:100% 0;text-align:right;">0,7</div>
<div class="t" style="top:646.39px;font-family:'Liberation Sans', sans-serif;font-size:25px;font-weight:400;font-style:italic;color:#575757;letter-spacing:-1.0px;right:1282.60px;transform-origin:100% 0;text-align:right;">0,7</div>
<div class="t" style="top:646.39px;font-family:'Liberation Sans', sans-serif;font-size:25px;font-weight:700;font-style:normal;color:#111;letter-spacing:-0.8px;right:1156.30px;transform-origin:100% 0;text-align:right;">0,7</div>
<div class="t" style="top:646.39px;font-family:'Liberation Sans', sans-serif;font-size:25px;font-weight:400;font-style:italic;color:#575757;letter-spacing:-1.0px;right:1007.20px;transform-origin:100% 0;text-align:right;">0,37</div>
<div class="t" style="top:646.39px;font-family:'Liberation Sans', sans-serif;font-size:25px;font-weight:400;font-style:normal;color:#575757;letter-spacing:-1.0px;right:882.00px;transform-origin:100% 0;text-align:right;">0,42</div>
<div class="t" style="top:646.39px;font-family:'Liberation Sans', sans-serif;font-size:25px;font-weight:700;font-style:normal;color:#111;letter-spacing:-0.8px;right:755.60px;transform-origin:100% 0;text-align:right;">0,42</div>
<div class="t" style="top:646.39px;font-family:'Liberation Sans', sans-serif;font-size:25px;font-weight:400;font-style:italic;color:#575757;letter-spacing:-1.0px;right:607.30px;transform-origin:100% 0;text-align:right;">0,3</div>
<div class="t" style="top:646.39px;font-family:'Liberation Sans', sans-serif;font-size:25px;font-weight:400;font-style:italic;color:#575757;letter-spacing:-1.0px;right:481.80px;transform-origin:100% 0;text-align:right;">0,3</div>
<div class="t" style="top:646.39px;font-family:'Liberation Sans', sans-serif;font-size:25px;font-weight:700;font-style:normal;color:#111;letter-spacing:-0.8px;right:356.30px;transform-origin:100% 0;text-align:right;">0,3</div>
<div class="t" style="top:646.39px;font-family:'Liberation Sans', sans-serif;font-size:25px;font-weight:400;font-style:normal;color:#4cc583;letter-spacing:-1.0px;right:238.40px;transform-origin:100% 0;text-align:right;">14,6%</div>
<div class="t" style="top:646.39px;font-family:'Liberation Sans', sans-serif;font-size:25px;font-weight:400;font-style:normal;color:#4a4a4a;letter-spacing:-1.0px;right:120.50px;transform-origin:100% 0;text-align:right;">0,0%</div>
<div class="t" style="top:684.90px;font-family:'Liberation Sans', sans-serif;font-size:24px;font-weight:700;font-style:normal;color:#111;letter-spacing:0px;left:-107.00px;width:2000px;text-align:center;transform-origin:50% 0;">BA</div>
<div class="t" style="top:684.05px;font-family:'Liberation Sans', sans-serif;font-size:25px;font-weight:400;font-style:italic;color:#575757;letter-spacing:-1.0px;right:1407.30px;transform-origin:100% 0;text-align:right;">346,0</div>
<div class="t" style="top:684.05px;font-family:'Liberation Sans', sans-serif;font-size:25px;font-weight:400;font-style:italic;color:#575757;letter-spacing:-1.0px;right:1282.60px;transform-origin:100% 0;text-align:right;">365,3</div>
<div class="t" style="top:684.05px;font-family:'Liberation Sans', sans-serif;font-size:25px;font-weight:700;font-style:normal;color:#111;letter-spacing:-0.8px;right:1156.30px;transform-origin:100% 0;text-align:right;">373,7</div>
<div class="t" style="top:684.05px;font-family:'Liberation Sans', sans-serif;font-size:25px;font-weight:400;font-style:italic;color:#575757;letter-spacing:-1.0px;right:1007.20px;transform-origin:100% 0;text-align:right;">1,95</div>
<div class="t" style="top:684.05px;font-family:'Liberation Sans', sans-serif;font-size:25px;font-weight:400;font-style:normal;color:#575757;letter-spacing:-1.0px;right:882.00px;transform-origin:100% 0;text-align:right;">1,93</div>
<div class="t" style="top:684.05px;font-family:'Liberation Sans', sans-serif;font-size:25px;font-weight:700;font-style:normal;color:#111;letter-spacing:-0.8px;right:755.60px;transform-origin:100% 0;text-align:right;">1,93</div>
<div class="t" style="top:684.05px;font-family:'Liberation Sans', sans-serif;font-size:25px;font-weight:400;font-style:italic;color:#575757;letter-spacing:-1.0px;right:607.30px;transform-origin:100% 0;text-align:right;">674,7</div>
<div class="t" style="top:684.05px;font-family:'Liberation Sans', sans-serif;font-size:25px;font-weight:400;font-style:italic;color:#575757;letter-spacing:-1.0px;right:481.80px;transform-origin:100% 0;text-align:right;">704,2</div>
<div class="t" style="top:684.05px;font-family:'Liberation Sans', sans-serif;font-size:25px;font-weight:700;font-style:normal;color:#111;letter-spacing:-0.8px;right:356.30px;transform-origin:100% 0;text-align:right;">719,7</div>
<div class="t" style="top:684.05px;font-family:'Liberation Sans', sans-serif;font-size:25px;font-weight:400;font-style:normal;color:#4cc583;letter-spacing:-1.0px;right:238.40px;transform-origin:100% 0;text-align:right;">6,7%</div>
<div class="t" style="top:684.05px;font-family:'Liberation Sans', sans-serif;font-size:25px;font-weight:400;font-style:normal;color:#4cc583;letter-spacing:-1.0px;right:120.50px;transform-origin:100% 0;text-align:right;">2,2%</div>
<div class="t" style="top:722.56px;font-family:'Liberation Sans', sans-serif;font-size:24px;font-weight:700;font-style:normal;color:#111;letter-spacing:0px;left:-107.00px;width:2000px;text-align:center;transform-origin:50% 0;">MT</div>
<div class="t" style="top:721.71px;font-family:'Liberation Sans', sans-serif;font-size:25px;font-weight:400;font-style:italic;color:#575757;letter-spacing:-1.0px;right:1407.30px;transform-origin:100% 0;text-align:right;">1.460,0</div>
<div class="t" style="top:721.71px;font-family:'Liberation Sans', sans-serif;font-size:25px;font-weight:400;font-style:italic;color:#575757;letter-spacing:-1.0px;right:1282.60px;transform-origin:100% 0;text-align:right;">1.555,0</div>
<div class="t" style="top:721.71px;font-family:'Liberation Sans', sans-serif;font-size:25px;font-weight:700;font-style:normal;color:#111;letter-spacing:-0.8px;right:1156.30px;transform-origin:100% 0;text-align:right;">1.555,0</div>
<div class="t" style="top:721.71px;font-family:'Liberation Sans', sans-serif;font-size:25px;font-weight:400;font-style:italic;color:#575757;letter-spacing:-1.0px;right:1007.20px;transform-origin:100% 0;text-align:right;">1,80</div>
<div class="t" style="top:721.71px;font-family:'Liberation Sans', sans-serif;font-size:25px;font-weight:400;font-style:normal;color:#575757;letter-spacing:-1.0px;right:882.00px;transform-origin:100% 0;text-align:right;">1,78</div>
<div class="t" style="top:721.71px;font-family:'Liberation Sans', sans-serif;font-size:25px;font-weight:700;font-style:normal;color:#111;letter-spacing:-0.8px;right:755.60px;transform-origin:100% 0;text-align:right;">1,78</div>
<div class="t" style="top:721.71px;font-family:'Liberation Sans', sans-serif;font-size:25px;font-weight:400;font-style:italic;color:#575757;letter-spacing:-1.0px;right:607.30px;transform-origin:100% 0;text-align:right;">2.628,0</div>
<div class="t" style="top:721.71px;font-family:'Liberation Sans', sans-serif;font-size:25px;font-weight:400;font-style:italic;color:#575757;letter-spacing:-1.0px;right:481.80px;transform-origin:100% 0;text-align:right;">2.767,0</div>
<div class="t" style="top:721.71px;font-family:'Liberation Sans', sans-serif;font-size:25px;font-weight:700;font-style:normal;color:#111;letter-spacing:-0.8px;right:356.30px;transform-origin:100% 0;text-align:right;">2.767,0</div>
<div class="t" style="top:721.71px;font-family:'Liberation Sans', sans-serif;font-size:25px;font-weight:400;font-style:normal;color:#4cc583;letter-spacing:-1.0px;right:238.40px;transform-origin:100% 0;text-align:right;">5,3%</div>
<div class="t" style="top:721.71px;font-family:'Liberation Sans', sans-serif;font-size:25px;font-weight:400;font-style:normal;color:#4a4a4a;letter-spacing:-1.0px;right:120.50px;transform-origin:100% 0;text-align:right;">0,0%</div>
<div class="t" style="top:760.22px;font-family:'Liberation Sans', sans-serif;font-size:24px;font-weight:700;font-style:normal;color:#111;letter-spacing:0px;left:-107.00px;width:2000px;text-align:center;transform-origin:50% 0;">MS</div>
<div class="t" style="top:759.37px;font-family:'Liberation Sans', sans-serif;font-size:25px;font-weight:400;font-style:italic;color:#575757;letter-spacing:-1.0px;right:1407.30px;transform-origin:100% 0;text-align:right;">32,0</div>
<div class="t" style="top:759.37px;font-family:'Liberation Sans', sans-serif;font-size:25px;font-weight:400;font-style:italic;color:#575757;letter-spacing:-1.0px;right:1282.60px;transform-origin:100% 0;text-align:right;">32,0</div>
<div class="t" style="top:759.37px;font-family:'Liberation Sans', sans-serif;font-size:25px;font-weight:700;font-style:normal;color:#111;letter-spacing:-0.8px;right:1156.30px;transform-origin:100% 0;text-align:right;">32,0</div>
<div class="t" style="top:759.37px;font-family:'Liberation Sans', sans-serif;font-size:25px;font-weight:400;font-style:italic;color:#575757;letter-spacing:-1.0px;right:1007.20px;transform-origin:100% 0;text-align:right;">1,90</div>
<div class="t" style="top:759.37px;font-family:'Liberation Sans', sans-serif;font-size:25px;font-weight:400;font-style:normal;color:#575757;letter-spacing:-1.0px;right:882.00px;transform-origin:100% 0;text-align:right;">2,00</div>
<div class="t" style="top:759.37px;font-family:'Liberation Sans', sans-serif;font-size:25px;font-weight:700;font-style:normal;color:#111;letter-spacing:-0.8px;right:755.60px;transform-origin:100% 0;text-align:right;">2,00</div>
<div class="t" style="top:759.37px;font-family:'Liberation Sans', sans-serif;font-size:25px;font-weight:400;font-style:italic;color:#575757;letter-spacing:-1.0px;right:607.30px;transform-origin:100% 0;text-align:right;">60,8</div>
<div class="t" style="top:759.37px;font-family:'Liberation Sans', sans-serif;font-size:25px;font-weight:400;font-style:italic;color:#575757;letter-spacing:-1.0px;right:481.80px;transform-origin:100% 0;text-align:right;">64,0</div>
<div class="t" style="top:759.37px;font-family:'Liberation Sans', sans-serif;font-size:25px;font-weight:700;font-style:normal;color:#111;letter-spacing:-0.8px;right:356.30px;transform-origin:100% 0;text-align:right;">64,0</div>
<div class="t" style="top:759.37px;font-family:'Liberation Sans', sans-serif;font-size:25px;font-weight:400;font-style:normal;color:#4cc583;letter-spacing:-1.0px;right:238.40px;transform-origin:100% 0;text-align:right;">5,3%</div>
<div class="t" style="top:759.37px;font-family:'Liberation Sans', sans-serif;font-size:25px;font-weight:400;font-style:normal;color:#4a4a4a;letter-spacing:-1.0px;right:120.50px;transform-origin:100% 0;text-align:right;">0,0%</div>
<div class="t" style="top:797.88px;font-family:'Liberation Sans', sans-serif;font-size:24px;font-weight:700;font-style:normal;color:#111;letter-spacing:0px;left:-107.00px;width:2000px;text-align:center;transform-origin:50% 0;">GO</div>
<div class="t" style="top:797.03px;font-family:'Liberation Sans', sans-serif;font-size:25px;font-weight:400;font-style:italic;color:#575757;letter-spacing:-1.0px;right:1407.30px;transform-origin:100% 0;text-align:right;">31,0</div>
<div class="t" style="top:797.03px;font-family:'Liberation Sans', sans-serif;font-size:25px;font-weight:400;font-style:italic;color:#575757;letter-spacing:-1.0px;right:1282.60px;transform-origin:100% 0;text-align:right;">31,0</div>
<div class="t" style="top:797.03px;font-family:'Liberation Sans', sans-serif;font-size:25px;font-weight:700;font-style:normal;color:#111;letter-spacing:-0.8px;right:1156.30px;transform-origin:100% 0;text-align:right;">31,0</div>
<div class="t" style="top:797.03px;font-family:'Liberation Sans', sans-serif;font-size:25px;font-weight:400;font-style:italic;color:#575757;letter-spacing:-1.0px;right:1007.20px;transform-origin:100% 0;text-align:right;">1,74</div>
<div class="t" style="top:797.03px;font-family:'Liberation Sans', sans-serif;font-size:25px;font-weight:400;font-style:normal;color:#575757;letter-spacing:-1.0px;right:882.00px;transform-origin:100% 0;text-align:right;">1,77</div>
<div class="t" style="top:797.03px;font-family:'Liberation Sans', sans-serif;font-size:25px;font-weight:700;font-style:normal;color:#111;letter-spacing:-0.8px;right:755.60px;transform-origin:100% 0;text-align:right;">1,77</div>
<div class="t" style="top:797.03px;font-family:'Liberation Sans', sans-serif;font-size:25px;font-weight:400;font-style:italic;color:#575757;letter-spacing:-1.0px;right:607.30px;transform-origin:100% 0;text-align:right;">53,9</div>
<div class="t" style="top:797.03px;font-family:'Liberation Sans', sans-serif;font-size:25px;font-weight:400;font-style:italic;color:#575757;letter-spacing:-1.0px;right:481.80px;transform-origin:100% 0;text-align:right;">55,0</div>
<div class="t" style="top:797.03px;font-family:'Liberation Sans', sans-serif;font-size:25px;font-weight:700;font-style:normal;color:#111;letter-spacing:-0.8px;right:356.30px;transform-origin:100% 0;text-align:right;">55,0</div>
<div class="t" style="top:797.03px;font-family:'Liberation Sans', sans-serif;font-size:25px;font-weight:400;font-style:normal;color:#4cc583;letter-spacing:-1.0px;right:238.40px;transform-origin:100% 0;text-align:right;">2,0%</div>
<div class="t" style="top:797.03px;font-family:'Liberation Sans', sans-serif;font-size:25px;font-weight:400;font-style:normal;color:#4a4a4a;letter-spacing:-1.0px;right:120.50px;transform-origin:100% 0;text-align:right;">0,0%</div>
<div class="t" style="top:835.54px;font-family:'Liberation Sans', sans-serif;font-size:24px;font-weight:700;font-style:normal;color:#111;letter-spacing:0px;left:-107.00px;width:2000px;text-align:center;transform-origin:50% 0;">MG</div>
<div class="t" style="top:834.69px;font-family:'Liberation Sans', sans-serif;font-size:25px;font-weight:400;font-style:italic;color:#575757;letter-spacing:-1.0px;right:1407.30px;transform-origin:100% 0;text-align:right;">32,1</div>
<div class="t" style="top:834.69px;font-family:'Liberation Sans', sans-serif;font-size:25px;font-weight:400;font-style:italic;color:#575757;letter-spacing:-1.0px;right:1282.60px;transform-origin:100% 0;text-align:right;">32,7</div>
<div class="t" style="top:834.69px;font-family:'Liberation Sans', sans-serif;font-size:25px;font-weight:700;font-style:normal;color:#111;letter-spacing:-0.8px;right:1156.30px;transform-origin:100% 0;text-align:right;">32,7</div>
<div class="t" style="top:834.69px;font-family:'Liberation Sans', sans-serif;font-size:25px;font-weight:400;font-style:italic;color:#575757;letter-spacing:-1.0px;right:1007.20px;transform-origin:100% 0;text-align:right;">1,72</div>
<div class="t" style="top:834.69px;font-family:'Liberation Sans', sans-serif;font-size:25px;font-weight:400;font-style:normal;color:#575757;letter-spacing:-1.0px;right:882.00px;transform-origin:100% 0;text-align:right;">1,72</div>
<div class="t" style="top:834.69px;font-family:'Liberation Sans', sans-serif;font-size:25px;font-weight:700;font-style:normal;color:#111;letter-spacing:-0.8px;right:755.60px;transform-origin:100% 0;text-align:right;">1,72</div>
<div class="t" style="top:834.69px;font-family:'Liberation Sans', sans-serif;font-size:25px;font-weight:400;font-style:italic;color:#575757;letter-spacing:-1.0px;right:607.30px;transform-origin:100% 0;text-align:right;">55,3</div>
<div class="t" style="top:834.69px;font-family:'Liberation Sans', sans-serif;font-size:25px;font-weight:400;font-style:italic;color:#575757;letter-spacing:-1.0px;right:481.80px;transform-origin:100% 0;text-align:right;">56,2</div>
<div class="t" style="top:834.69px;font-family:'Liberation Sans', sans-serif;font-size:25px;font-weight:700;font-style:normal;color:#111;letter-spacing:-0.8px;right:356.30px;transform-origin:100% 0;text-align:right;">56,2</div>
<div class="t" style="top:834.69px;font-family:'Liberation Sans', sans-serif;font-size:25px;font-weight:400;font-style:normal;color:#4cc583;letter-spacing:-1.0px;right:238.40px;transform-origin:100% 0;text-align:right;">1,6%</div>
<div class="t" style="top:834.69px;font-family:'Liberation Sans', sans-serif;font-size:25px;font-weight:400;font-style:normal;color:#4a4a4a;letter-spacing:-1.0px;right:120.50px;transform-origin:100% 0;text-align:right;">0,0%</div>
<div class="t" style="top:873.20px;font-family:'Liberation Sans', sans-serif;font-size:24px;font-weight:700;font-style:normal;color:#111;letter-spacing:0px;left:-107.00px;width:2000px;text-align:center;transform-origin:50% 0;">SP</div>
<div class="t" style="top:872.35px;font-family:'Liberation Sans', sans-serif;font-size:25px;font-weight:400;font-style:italic;color:#575757;letter-spacing:-1.0px;right:1407.30px;transform-origin:100% 0;text-align:right;">9,9</div>
<div class="t" style="top:872.35px;font-family:'Liberation Sans', sans-serif;font-size:25px;font-weight:400;font-style:italic;color:#575757;letter-spacing:-1.0px;right:1282.60px;transform-origin:100% 0;text-align:right;">9,9</div>
<div class="t" style="top:872.35px;font-family:'Liberation Sans', sans-serif;font-size:25px;font-weight:700;font-style:normal;color:#111;letter-spacing:-0.8px;right:1156.30px;transform-origin:100% 0;text-align:right;">9,9</div>
<div class="t" style="top:872.35px;font-family:'Liberation Sans', sans-serif;font-size:25px;font-weight:400;font-style:italic;color:#575757;letter-spacing:-1.0px;right:1007.20px;transform-origin:100% 0;text-align:right;">1,65</div>
<div class="t" style="top:872.35px;font-family:'Liberation Sans', sans-serif;font-size:25px;font-weight:400;font-style:normal;color:#575757;letter-spacing:-1.0px;right:882.00px;transform-origin:100% 0;text-align:right;">1,66</div>
<div class="t" style="top:872.35px;font-family:'Liberation Sans', sans-serif;font-size:25px;font-weight:700;font-style:normal;color:#111;letter-spacing:-0.8px;right:755.60px;transform-origin:100% 0;text-align:right;">1,66</div>
<div class="t" style="top:872.35px;font-family:'Liberation Sans', sans-serif;font-size:25px;font-weight:400;font-style:italic;color:#575757;letter-spacing:-1.0px;right:607.30px;transform-origin:100% 0;text-align:right;">16,3</div>
<div class="t" style="top:872.35px;font-family:'Liberation Sans', sans-serif;font-size:25px;font-weight:400;font-style:italic;color:#575757;letter-spacing:-1.0px;right:481.80px;transform-origin:100% 0;text-align:right;">16,4</div>
<div class="t" style="top:872.35px;font-family:'Liberation Sans', sans-serif;font-size:25px;font-weight:700;font-style:normal;color:#111;letter-spacing:-0.8px;right:356.30px;transform-origin:100% 0;text-align:right;">16,4</div>
<div class="t" style="top:872.35px;font-family:'Liberation Sans', sans-serif;font-size:25px;font-weight:400;font-style:normal;color:#4cc583;letter-spacing:-1.0px;right:238.40px;transform-origin:100% 0;text-align:right;">0,6%</div>
<div class="t" style="top:872.35px;font-family:'Liberation Sans', sans-serif;font-size:25px;font-weight:400;font-style:normal;color:#4a4a4a;letter-spacing:-1.0px;right:120.50px;transform-origin:100% 0;text-align:right;">0,0%</div>
<div class="t" style="top:910.86px;font-family:'Liberation Sans', sans-serif;font-size:24px;font-weight:700;font-style:normal;color:#111;letter-spacing:0px;left:-107.00px;width:2000px;text-align:center;transform-origin:50% 0;">PR</div>
<div class="t" style="top:910.01px;font-family:'Liberation Sans', sans-serif;font-size:25px;font-weight:400;font-style:italic;color:#575757;letter-spacing:-1.0px;right:1407.30px;transform-origin:100% 0;text-align:right;">1,6</div>
<div class="t" style="top:910.01px;font-family:'Liberation Sans', sans-serif;font-size:25px;font-weight:400;font-style:italic;color:#575757;letter-spacing:-1.0px;right:1282.60px;transform-origin:100% 0;text-align:right;">1,6</div>
<div class="t" style="top:910.01px;font-family:'Liberation Sans', sans-serif;font-size:25px;font-weight:700;font-style:normal;color:#111;letter-spacing:-0.8px;right:1156.30px;transform-origin:100% 0;text-align:right;">1,6</div>
<div class="t" style="top:910.01px;font-family:'Liberation Sans', sans-serif;font-size:25px;font-weight:400;font-style:italic;color:#575757;letter-spacing:-1.0px;right:1007.20px;transform-origin:100% 0;text-align:right;">1,21</div>
<div class="t" style="top:910.01px;font-family:'Liberation Sans', sans-serif;font-size:25px;font-weight:400;font-style:normal;color:#575757;letter-spacing:-1.0px;right:882.00px;transform-origin:100% 0;text-align:right;">1,20</div>
<div class="t" style="top:910.01px;font-family:'Liberation Sans', sans-serif;font-size:25px;font-weight:700;font-style:normal;color:#111;letter-spacing:-0.8px;right:755.60px;transform-origin:100% 0;text-align:right;">1,20</div>
<div class="t" style="top:910.01px;font-family:'Liberation Sans', sans-serif;font-size:25px;font-weight:400;font-style:italic;color:#575757;letter-spacing:-1.0px;right:607.30px;transform-origin:100% 0;text-align:right;">1,9</div>
<div class="t" style="top:910.01px;font-family:'Liberation Sans', sans-serif;font-size:25px;font-weight:400;font-style:italic;color:#575757;letter-spacing:-1.0px;right:481.80px;transform-origin:100% 0;text-align:right;">1,9</div>
<div class="t" style="top:910.01px;font-family:'Liberation Sans', sans-serif;font-size:25px;font-weight:700;font-style:normal;color:#111;letter-spacing:-0.8px;right:356.30px;transform-origin:100% 0;text-align:right;">1,9</div>
<div class="t" style="top:910.01px;font-family:'Liberation Sans', sans-serif;font-size:25px;font-weight:400;font-style:normal;color:#f0555a;letter-spacing:-1.0px;right:238.40px;transform-origin:100% 0;text-align:right;">-0,6%</div>
<div class="t" style="top:910.01px;font-family:'Liberation Sans', sans-serif;font-size:25px;font-weight:400;font-style:normal;color:#4a4a4a;letter-spacing:-1.0px;right:120.50px;transform-origin:100% 0;text-align:right;">0,0%</div>
<div class="t" style="top:948.98px;font-family:'Liberation Sans', sans-serif;font-size:24px;font-weight:700;font-style:normal;color:#111;letter-spacing:0px;left:-107.00px;width:2000px;text-align:center;transform-origin:50% 0;">Brasil</div>
<div class="t" style="top:948.13px;font-family:'Liberation Sans', sans-serif;font-size:25px;font-weight:400;font-style:italic;color:#575757;letter-spacing:-1.0px;right:1407.30px;transform-origin:100% 0;text-align:right;">1.990</div>
<div class="t" style="top:948.13px;font-family:'Liberation Sans', sans-serif;font-size:25px;font-weight:400;font-style:normal;color:#575757;letter-spacing:-1.0px;right:1282.60px;transform-origin:100% 0;text-align:right;">2.111</div>
<div class="t" style="top:948.13px;font-family:'Liberation Sans', sans-serif;font-size:25px;font-weight:700;font-style:normal;color:#111;letter-spacing:-0.8px;right:1156.30px;transform-origin:100% 0;text-align:right;">2.119</div>
<div class="t" style="top:948.13px;font-family:'Liberation Sans', sans-serif;font-size:25px;font-weight:400;font-style:italic;color:#575757;letter-spacing:-1.0px;right:1007.20px;transform-origin:100% 0;text-align:right;">1,82</div>
<div class="t" style="top:948.13px;font-family:'Liberation Sans', sans-serif;font-size:25px;font-weight:400;font-style:normal;color:#575757;letter-spacing:-1.0px;right:882.00px;transform-origin:100% 0;text-align:right;">1,81</div>
<div class="t" style="top:948.13px;font-family:'Liberation Sans', sans-serif;font-size:25px;font-weight:700;font-style:normal;color:#111;letter-spacing:-0.8px;right:755.60px;transform-origin:100% 0;text-align:right;">1,81</div>
<div class="t" style="top:948.13px;font-family:'Liberation Sans', sans-serif;font-size:25px;font-weight:400;font-style:italic;color:#575757;letter-spacing:-1.0px;right:607.30px;transform-origin:100% 0;text-align:right;">3.622</div>
<div class="t" style="top:948.13px;font-family:'Liberation Sans', sans-serif;font-size:25px;font-weight:400;font-style:normal;color:#575757;letter-spacing:-1.0px;right:481.80px;transform-origin:100% 0;text-align:right;">3.810</div>
<div class="t" style="top:948.13px;font-family:'Liberation Sans', sans-serif;font-size:25px;font-weight:700;font-style:normal;color:#111;letter-spacing:-0.8px;right:356.30px;transform-origin:100% 0;text-align:right;">3.826</div>
<div class="t" style="top:948.13px;font-family:'Liberation Sans', sans-serif;font-size:25px;font-weight:700;font-style:normal;color:#22b24f;letter-spacing:-0.8px;right:238.40px;transform-origin:100% 0;text-align:right;">5,6%</div>
<div class="t" style="top:948.13px;font-family:'Liberation Sans', sans-serif;font-size:25px;font-weight:700;font-style:normal;color:#22b24f;letter-spacing:-0.8px;right:120.50px;transform-origin:100% 0;text-align:right;">0,4%</div>
<div class="r" style="left:839.00px;top:940.00px;width:1521.00px;height:2.40px;background:#7a7a7a;"></div>
<div class="r" style="left:839.00px;top:978.50px;width:1521.00px;height:2.30px;background:#7a7a7a;"></div>
<div class="t" style="left:2390px;top:1219px;font-family:'Liberation Sans', sans-serif;font-size:26px;color:#bdbdbd;transform-origin:0 0;transform:rotate(-90deg) scaleX(1.0);letter-spacing:-1.1px;white-space:nowrap;line-height:1;">Fonte: StoneX. Elabora&#231;&#227;o: StoneX.</div>
<div class="t" style="top:1259.20px;font-family:'Liberation Sans', sans-serif;font-size:30px;font-weight:700;font-style:normal;color:#0b111d;letter-spacing:-1.05px;left:103.00px;transform-origin:0 0;">ESTIMATIVA DA SAFRA BRASILEIRA DE ALGOD&#195;O 2024/25</div>
<div class="t" style="top:1262.05px;font-family:'Liberation Sans', sans-serif;font-size:29px;font-weight:400;font-style:normal;color:#3a3d42;letter-spacing:-0.2px;right:114.00px;transform-origin:100% 0;text-align:right;">26 de dezembro de 2024</div>
<div class="t" style="top:1609.96px;font-family:'Liberation Sans', sans-serif;font-size:33px;font-weight:400;font-style:normal;color:#1e2a86;letter-spacing:0px;-webkit-text-stroke:1px #1e2a86;left:102.00px;transform-origin:0 0;">Estimativa de produ&#231;&#227;o de algod&#227;o por estado 2024/25 &#8211; dez. 2024</div>
<div class="t" style="top:1647.86px;font-family:'Liberation Sans', sans-serif;font-size:33px;font-weight:400;font-style:normal;color:#1e2a86;letter-spacing:0px;-webkit-text-stroke:1px #1e2a86;left:102.00px;transform-origin:0 0;">(mil tons)</div>
<div class="t" style="top:1609.96px;font-family:'Liberation Sans', sans-serif;font-size:33px;font-weight:400;font-style:normal;color:#1e2a86;letter-spacing:0px;-webkit-text-stroke:1px #1e2a86;left:1272.00px;transform-origin:0 0;">Estimativa de &#225;rea plantada de algod&#227;o por estado 2024/25 &#8211; dez. 2024</div>
<div class="t" style="top:1647.86px;font-family:'Liberation Sans', sans-serif;font-size:33px;font-weight:400;font-style:normal;color:#1e2a86;letter-spacing:0px;-webkit-text-stroke:1px #1e2a86;left:1272.00px;transform-origin:0 0;">(mil ha)</div>
<svg class="ic" style="left:0;top:0" width="2478" height="1748" viewBox="0 0 2478 1748"><g fill="#dedede" transform="">
<path d="M369.7,1732.3 L378.4,1734.4 L384.9,1737.1 L401.3,1737.7 L408.9,1743.2 L416.5,1744.2 L417.6,1735.5 L424.1,1732.3 L432.8,1731.2 L443.7,1725.7 L456.8,1720.3 L463.3,1714.8 L462.2,1707.2 L472.0,1706.1 L478.6,1710.5 L477.5,1721.4 L485.1,1724.6 L489.5,1734.4 L486.2,1743.2 L489.5,1760 L382.7,1760 Z"/>
<path d="M655,1760 L673.5,1720.3 L680,1726.8 L683.3,1760 Z"/>
</g></svg>
<svg class="ic" style="left:0;top:0" width="2478" height="1748" viewBox="0 0 2478 1748"><g fill="#dedede" transform="translate(1546.8,1724.6) scale(1.036) translate(-369.7,-1732.3)">
<path d="M369.7,1732.3 L378.4,1734.4 L384.9,1737.1 L401.3,1737.7 L408.9,1743.2 L416.5,1744.2 L417.6,1735.5 L424.1,1732.3 L432.8,1731.2 L443.7,1725.7 L456.8,1720.3 L463.3,1714.8 L462.2,1707.2 L472.0,1706.1 L478.6,1710.5 L477.5,1721.4 L485.1,1724.6 L489.5,1734.4 L486.2,1743.2 L489.5,1760 L382.7,1760 Z"/>
<path d="M655,1760 L673.5,1720.3 L680,1726.8 L683.3,1760 Z"/>
</g></svg>
</body></html>
